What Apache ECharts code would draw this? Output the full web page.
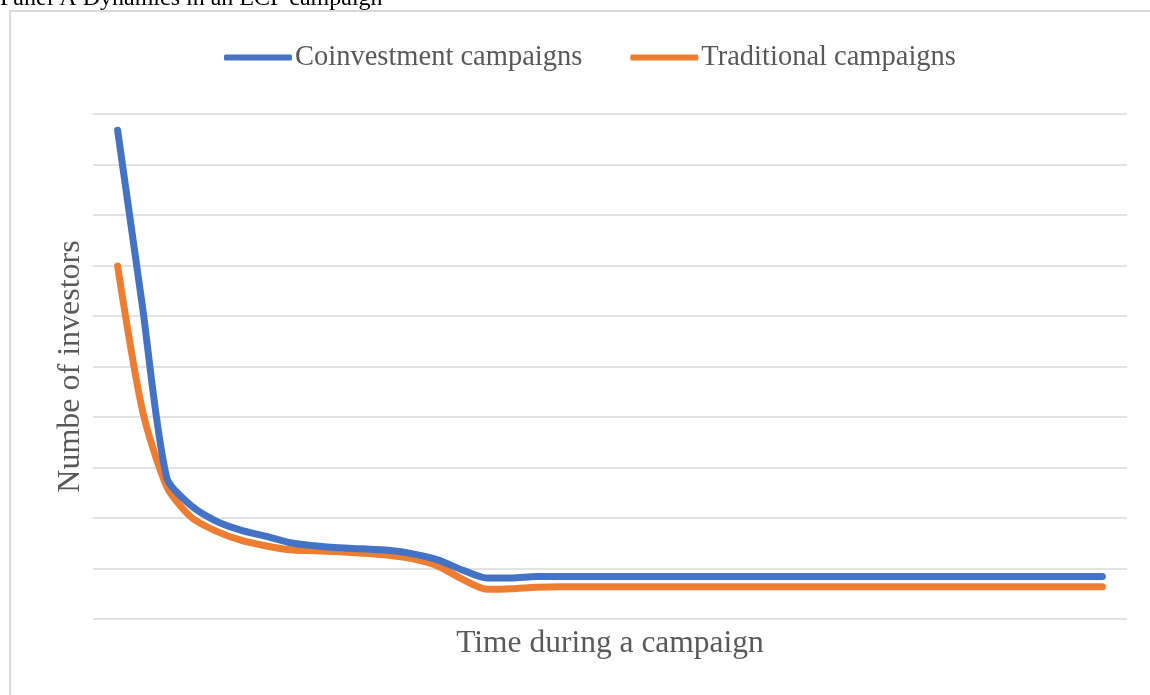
<!DOCTYPE html>
<html>
<head>
<meta charset="utf-8">
<title>Panel A Dynamics in an ECF campaign</title>
<script src="https://cdn.jsdelivr.net/npm/echarts@6/dist/echarts.min.js"></script>
<style>
  html, body { margin: 0; padding: 0; background: #ffffff; }
  #chart { width: 1150px; height: 695px; }
</style>
</head>
<body>
<div id="chart"></div>
<script>
// Time steps during a campaign (0 = launch, 40 = close)
var timeSteps = [0, 1, 2, 3, 4, 5, 6, 7, 8, 9, 10, 11, 12, 13, 14, 15, 16, 17, 18, 19, 20,
                 21, 22, 23, 24, 25, 26, 27, 28, 29, 30, 31, 32, 33, 34, 35, 36, 37, 38, 39, 40];

// Number of investors per step (arbitrary units)
var coinvestment = [9.68, 6.22, 2.79, 2.24, 1.94, 1.76, 1.64, 1.51, 1.45, 1.41, 1.39,
                    1.36, 1.29, 1.17, 0.97, 0.81, 0.81, 0.84, 0.84, 0.84, 0.84,
                    0.84, 0.84, 0.84, 0.84, 0.84, 0.84, 0.84, 0.84, 0.84, 0.84,
                    0.84, 0.84, 0.84, 0.84, 0.84, 0.84, 0.84, 0.84, 0.84, 0.84];
var traditional = [6.99, 4.15, 2.62, 2.01, 1.74, 1.56, 1.45, 1.37, 1.35, 1.33, 1.30,
                   1.26, 1.19, 1.05, 0.79, 0.59, 0.60, 0.63, 0.64, 0.64, 0.64,
                   0.64, 0.64, 0.64, 0.64, 0.64, 0.64, 0.64, 0.64, 0.64, 0.64,
                   0.64, 0.64, 0.64, 0.64, 0.64, 0.64, 0.64, 0.64, 0.64, 0.64];

var seriesNames = ['Coinvestment campaigns', 'Traditional campaigns'];
var seriesColors = ['#4472C4', '#ED7D31'];

function pairs(values) {
  return timeSteps.map(function (t, i) { return [t, values[i]]; });
}

var chart = echarts.init(document.getElementById('chart'), null, { renderer: 'canvas' });

var serif = '"Liberation Serif", "Times New Roman", serif';

chart.setOption({
  backgroundColor: '#ffffff',
  animation: false,
  title: {
    text: 'Panel A Dynamics in an ECF campaign',
    left: 0,
    top: -13,
    padding: 0,
    textStyle: { fontFamily: serif, fontSize: 24, fontWeight: 'normal', color: '#000000', lineHeight: 24 }
  },
  graphic: [{
    type: 'rect',
    z: -10,
    silent: true,
    shape: { x: 10, y: 11, width: 1160, height: 700 },
    style: { fill: 'none', stroke: '#d9d9d9', lineWidth: 2 }
  }],
  legend: {
    left: 219,
    top: 38,
    itemWidth: 68,
    itemHeight: 6,
    itemGap: 48,
    icon: 'roundRect',
    textStyle: { fontFamily: serif, fontSize: 28.5, color: '#595959', padding: [0, 0, 0, -2] },
    data: [
      { name: seriesNames[0], itemStyle: { color: seriesColors[0] } },
      { name: seriesNames[1], itemStyle: { color: seriesColors[1] } }
    ]
  },
  grid: { left: 93, right: 23, top: 114, bottom: 76, containLabel: false },
  xAxis: {
    type: 'value',
    min: -1,
    max: 41,
    name: 'Time during a campaign',
    nameLocation: 'middle',
    nameGap: 9,
    nameTextStyle: { fontFamily: serif, fontSize: 31.5, color: '#595959' },
    axisLine: { show: false },
    axisTick: { show: false },
    axisLabel: { show: false },
    splitLine: { show: false }
  },
  yAxis: {
    type: 'value',
    min: 0,
    max: 10,
    interval: 1,
    name: 'Numbe of investors',
    nameLocation: 'middle',
    nameRotate: 90,
    nameGap: 6,
    nameTextStyle: { fontFamily: serif, fontSize: 32, color: '#595959' },
    axisLine: { show: false },
    axisTick: { show: false },
    axisLabel: { show: false },
    splitLine: { show: true, lineStyle: { color: '#d9d9d9', width: 1.6 } }
  },
  series: [
    {
      name: seriesNames[0],
      type: 'line',
      data: pairs(coinvestment),
      smooth: 0.25,
      symbol: 'none',
      z: 3,
      lineStyle: { color: seriesColors[0], width: 7, cap: 'round', join: 'round' },
      itemStyle: { color: seriesColors[0] }
    },
    {
      name: seriesNames[1],
      type: 'line',
      data: pairs(traditional),
      smooth: 0.25,
      symbol: 'none',
      z: 2,
      lineStyle: { color: seriesColors[1], width: 7, cap: 'round', join: 'round' },
      itemStyle: { color: seriesColors[1] }
    }
  ]
});
</script>
</body>
</html>
